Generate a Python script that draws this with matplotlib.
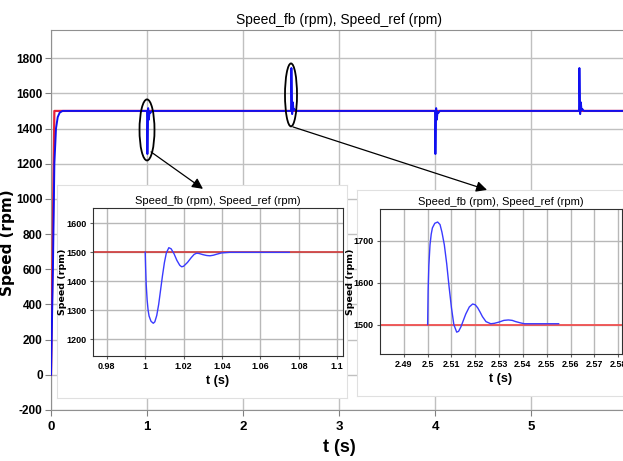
import matplotlib.pyplot as plt
from matplotlib.patches import Ellipse, ConnectionPatch

# --- data ---
# main trace (speed feedback) and reference
main_t = [0, 0.02, 0.035, 0.052, 0.07, 0.09, 0.12, 1.0, 1.0, 1.004, 1.012, 1.019, 1.027, 1.034, 1.05,
          2.5, 2.5, 2.504, 2.512, 2.519, 2.527, 2.534, 2.55,
          4.0, 4.0, 4.004, 4.012, 4.019, 4.027, 4.034, 4.05,
          5.5, 5.5, 5.504, 5.512, 5.519, 5.527, 5.534, 5.55, 6.0]
main_fb = [0, 600, 1200, 1400, 1465, 1490, 1500, 1500, 1500, 1255, 1516, 1450, 1497, 1488, 1500,
           1500, 1500, 1744, 1482, 1549, 1502, 1511, 1500,
           1500, 1500, 1255, 1516, 1450, 1497, 1488, 1500,
           1500, 1500, 1744, 1482, 1549, 1502, 1511, 1500, 1500]
ref_t = [0, 0.035, 6.0]
ref_val = [0, 1500, 1500]
main_yticks = [-200, 0, 200, 400, 600, 800, 1000, 1200, 1400, 1600, 1800]

# zoom 1: speed dip at t = 1 s
z1_t = [1.0, 1.0002, 1.0005, 1.001, 1.0015, 1.002, 1.003, 1.0042, 1.005, 1.006, 1.007, 1.008,
        1.009, 1.010, 1.011, 1.0123, 1.0135, 1.015, 1.0165, 1.018, 1.019, 1.020, 1.022, 1.024,
        1.0255, 1.0268, 1.028, 1.030, 1.032, 1.0337, 1.0355, 1.037, 1.0398, 1.044, 1.05, 1.075]
z1_fb = [1500, 1450, 1390, 1335, 1300, 1280, 1262, 1255, 1260, 1282, 1320, 1370,
         1420, 1465, 1498, 1516, 1512, 1495, 1472, 1455, 1450, 1452, 1465, 1482,
         1493, 1497, 1496, 1492, 1489, 1488, 1490, 1493, 1498, 1500, 1500, 1500]
z1_ref_t = [0.97, 1.11]
z1_ref = [1500, 1500]

# zoom 2: speed overshoot at t = 2.5 s
z2_t = [2.5, 2.5002, 2.5005, 2.501, 2.5015, 2.502, 2.503, 2.5042, 2.5052, 2.506, 2.507, 2.508,
        2.509, 2.510, 2.511, 2.5122, 2.513, 2.514, 2.515, 2.516, 2.5175, 2.5189, 2.520, 2.521,
        2.522, 2.523, 2.5245, 2.5265, 2.528, 2.530, 2.532, 2.5339, 2.5355, 2.537, 2.539, 2.5406,
        2.545, 2.555]
z2_fb = [1500, 1580, 1640, 1690, 1715, 1730, 1741, 1744, 1738, 1720, 1690, 1645,
         1590, 1540, 1500, 1482, 1484, 1495, 1510, 1525, 1542, 1549, 1547, 1540,
         1530, 1519, 1507, 1502, 1503, 1506, 1510, 1511, 1510, 1507, 1504, 1502,
         1502, 1502]
z2_ref_t = [2.47, 2.59]
z2_ref = [1500, 1500]

FONT = ['Liberation Sans', 'DejaVu Sans']
plt.rcParams['font.family'] = FONT

W, H = 623, 461
fig = plt.figure(figsize=(W / 100, H / 100), dpi=100)


def px(x0, y0, x1, y1):
    # pixel box -> figure fraction rect
    return [x0 / W, 1 - y1 / H, (x1 - x0) / W, (y1 - y0) / H]


# --- main axes ---
ax = fig.add_axes(px(51, 30, 627, 410))
ax.plot(ref_t, ref_val, color='#e8203a', lw=1.6, zorder=3)
ax.plot(main_t, main_fb, color='#1010f0', lw=1.4, zorder=4)
ax.set_xlim(0, 6)
ax.set_ylim(-200, 1960)
ax.set_xticks(range(0, 7))
ax.set_yticks(main_yticks)
ax.set_yticklabels([str(v) for v in main_yticks])
ax.grid(True, color='#c0c0c0', lw=1.0)
ax.tick_params(labelsize=8.5, color='#808080', length=4, pad=2)
ax.tick_params(axis='x', labelsize=9.5, pad=4)
for lab in ax.get_xticklabels() + ax.get_yticklabels():
    lab.set_fontweight('bold')
for s in ax.spines.values():
    s.set_color('#909090')
ax.set_title('Speed_fb (rpm), Speed_ref (rpm)', fontsize=10, pad=4)
ax.set_xlabel('t (s)', fontsize=13, fontweight='bold', labelpad=4)
ax.set_ylabel('Speed (rpm)', fontsize=11, fontweight='bold', family='DejaVu Sans')
ax.yaxis.set_label_coords(-0.063, 0.44)

# ellipses around events
ax.add_patch(Ellipse((1.0, 1392), 0.156, 347, fill=False, ec='black', lw=1.3, zorder=5))
ax.add_patch(Ellipse((2.5, 1591), 0.125, 358, fill=False, ec='black', lw=1.3, zorder=5))

# white panels behind the insets
for box in [px(57, 185, 347, 398), px(357, 190, 625, 396)]:
    b = fig.add_axes(box)
    b.set_xticks([])
    b.set_yticks([])
    for s in b.spines.values():
        s.set_color('#e0e0e0')


def style_inset(a, title, ylab_x):
    a.grid(True, color='#b8b8b8', lw=1.0)
    a.tick_params(labelsize=6.5, color='#606060', length=2.5, pad=2)
    for lab in a.get_xticklabels() + a.get_yticklabels():
        lab.set_fontweight('bold')
    for s in a.spines.values():
        s.set_color('#303030')
    a.set_title(title, fontsize=8, pad=3)
    a.set_xlabel('t (s)', fontsize=9, fontweight='bold', labelpad=3)
    a.set_ylabel('Speed (rpm)', fontsize=6.8, fontweight='bold', family='DejaVu Sans')
    a.yaxis.set_label_coords(ylab_x, 0.5)


# --- inset 1 ---
a1 = fig.add_axes(px(93, 208, 343, 356))
a1.plot(z1_ref_t, z1_ref, color='#d03838', lw=1.2)
a1.plot(z1_t, z1_fb, color='#3a3aff', lw=1.0)
a1.set_xlim(0.9728, 1.103)
a1.set_ylim(1142, 1653)
a1.set_xticks([0.98, 1, 1.02, 1.04, 1.06, 1.08, 1.1])
a1.set_xticklabels(['0.98', '1', '1.02', '1.04', '1.06', '1.08', '1.1'])
a1.set_yticks([1200, 1300, 1400, 1500, 1600])
style_inset(a1, 'Speed_fb (rpm), Speed_ref (rpm)', -0.105)

# --- inset 2 ---
a2 = fig.add_axes(px(380, 209, 622, 354))
a2.plot(z2_ref_t, z2_ref, color='#f05050', lw=1.3)
a2.plot(z2_t, z2_fb, color='#3a3aff', lw=1.0)
a2.set_xlim(2.48, 2.5816)
a2.set_ylim(1430, 1775)
a2.set_xticks([2.49, 2.5, 2.51, 2.52, 2.53, 2.54, 2.55, 2.56, 2.57, 2.58])
a2.set_xticklabels(['2.49', '2.5', '2.51', '2.52', '2.53', '2.54', '2.55', '2.56', '2.57', '2.58'])
a2.set_yticks([1500, 1600, 1700])
style_inset(a2, 'Speed_fb (rpm), Speed_ref (rpm)', -0.105)

# arrows from ellipses to insets (drawn on top of everything)
for start, end in [((1.042, 1267), (1.583, 1057)), ((2.521, 1409), (4.542, 1051))]:
    con = ConnectionPatch(start, end, coordsA=ax.transData, coordsB=ax.transData,
                          arrowstyle='-|>', mutation_scale=16, lw=0.9, color='black', zorder=10)
    fig.add_artist(con)

fig.savefig('out.png', dpi=100)
